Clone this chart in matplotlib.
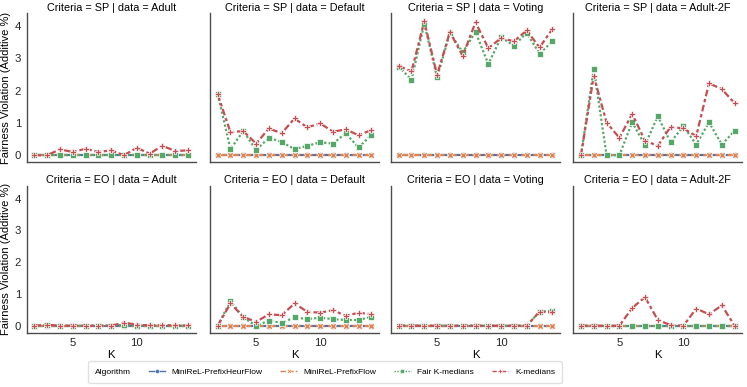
import matplotlib.pyplot as plt
from matplotlib.lines import Line2D
from matplotlib.offsetbox import HPacker

plt.rcParams['font.family'] = ['Liberation Sans', 'DejaVu Sans']

K = [2, 3, 4, 5, 6, 7, 8, 9, 10, 11, 12, 13, 14]
criteria = ["SP", "EO"]
datasets = ["Adult", "Default", "Voting", "Adult-2F"]
algorithms = ["MiniReL-PrefixHeurFlow", "MiniReL-PrefixFlow", "Fair K-medians", "K-medians"]

# MiniReL variants sit on zero everywhere
zero = [0, 0, 0, 0, 0, 0, 0, 0, 0, 0, 0, 0, 0]

# Fair K-medians
sp_adult_fair = [0, 0, 0, 0, 0, 0, 0, 0, 0, 0, 0, 0, 0]
sp_default_fair = [1.89, 0.19, 0.75, 0.16, 0.54, 0.41, 0.19, 0.29, 0.40, 0.36, 0.68, 0.24, 0.62]
sp_voting_fair = [2.75, 2.34, 4.08, 2.41, 3.79, 3.19, 3.82, 2.83, 3.65, 3.40, 3.79, 3.15, 3.53]
sp_adult2f_fair = [0, 2.68, 0, 0, 1.02, 0.31, 1.21, 0.40, 0.90, 0.33, 1.02, 0.33, 0.76]
eo_adult_fair = [0, 0.02, 0, 0, 0, 0, 0, 0.03, 0, 0, 0, 0, 0]
eo_default_fair = [0, 0.78, 0.26, 0, 0.16, 0.09, 0.26, 0.21, 0.25, 0.21, 0.18, 0.18, 0.28]
eo_voting_fair = [0, 0, 0, 0, 0, 0, 0, 0, 0, 0, 0, 0.44, 0.47]
eo_adult2f_fair = [0, 0, 0, 0, 0, 0, 0, 0, 0, 0, 0, 0, 0]

# K-medians
sp_adult_km = [0, 0, 0.18, 0.10, 0.20, 0.10, 0.15, 0, 0.23, 0.05, 0.29, 0.13, 0.15]
sp_default_km = [1.89, 0.71, 0.75, 0.36, 0.83, 0.68, 1.14, 0.86, 0.99, 0.73, 0.80, 0.62, 0.78]
sp_voting_km = [2.77, 2.60, 4.15, 2.49, 3.82, 3.08, 4.12, 3.32, 3.63, 3.53, 3.87, 3.34, 3.91]
sp_adult2f_km = [0, 2.46, 1.01, 0.54, 1.28, 0.45, 0.29, 0.88, 0.83, 0.59, 2.23, 2.05, 1.61]
eo_adult_km = [0, 0.03, 0, 0, 0, 0, 0, 0.10, 0.03, 0.01, 0.02, 0.01, 0.01]
eo_default_km = [0, 0.70, 0.28, 0.12, 0.36, 0.33, 0.70, 0.44, 0.41, 0.49, 0.31, 0.41, 0.36]
eo_voting_km = [0, 0, 0, 0, 0, 0, 0, 0, 0, 0, 0, 0.44, 0.42]
eo_adult2f_km = [0, 0, 0, 0, 0.56, 0.90, 0.18, 0.02, 0, 0.54, 0.36, 0.64, 0]

fair = {
    ("SP", "Adult"): sp_adult_fair, ("SP", "Default"): sp_default_fair,
    ("SP", "Voting"): sp_voting_fair, ("SP", "Adult-2F"): sp_adult2f_fair,
    ("EO", "Adult"): eo_adult_fair, ("EO", "Default"): eo_default_fair,
    ("EO", "Voting"): eo_voting_fair, ("EO", "Adult-2F"): eo_adult2f_fair,
}
kmed = {
    ("SP", "Adult"): sp_adult_km, ("SP", "Default"): sp_default_km,
    ("SP", "Voting"): sp_voting_km, ("SP", "Adult-2F"): sp_adult2f_km,
    ("EO", "Adult"): eo_adult_km, ("EO", "Default"): eo_default_km,
    ("EO", "Voting"): eo_voting_km, ("EO", "Adult-2F"): eo_adult2f_km,
}

colors = ["#4C72B0", "#DD8452", "#55A868", "#C44E52"]
markers = ["o", "X", "s", "P"]
dashes = [None, (4, 1.5), (1, 1), (3, 1.25, 1.5, 1.25)]

W, H = 747, 387
fig = plt.figure(figsize=(W / 100, H / 100), dpi=100)

lefts = [26.7, 210, 391, 573.3]
width = 169
rows = [(13.3, 162.3), (186, 332.7)]  # top, bottom in pixels

for r, crit in enumerate(criteria):
    top, bot = rows[r]
    for c, data in enumerate(datasets):
        ax = fig.add_axes([lefts[c] / W, 1 - bot / H, width / W, (bot - top) / H])
        series = [zero, zero, fair[(crit, data)], kmed[(crit, data)]]
        for i, y in enumerate(series):
            line, = ax.plot(K, y, color=colors[i], marker=markers[i], lw=1.6,
                            ms=4.5, mec="white", mew=0.5, label=algorithms[i])
            if dashes[i] is not None:
                line.set_dashes(dashes[i])
        ax.set_ylim(-0.22, 4.4)
        ax.set_xticks([5, 10])
        ax.set_yticks([0, 1, 2, 3, 4])
        ax.tick_params(length=0, labelsize=8.2, pad=4, colors="0.15")
        for s in ["top", "right"]:
            ax.spines[s].set_visible(False)
        for s in ["left", "bottom"]:
            ax.spines[s].set_color("0.3")
            ax.spines[s].set_linewidth(1.0)
        ax.set_title("Criteria = %s | data = %s" % (crit, data), fontsize=7.8, pad=2)
        if c == 0:
            ax.set_ylabel("Fairness Violation (Additive %)", fontsize=8.0, labelpad=3)
        else:
            ax.set_yticklabels([])
        if r == 1:
            ax.set_xlabel("K", fontsize=8.2, labelpad=1)
        else:
            ax.set_xticklabels([])

handles = []
for i in range(4):
    h = Line2D([], [], color=colors[i], marker=markers[i], lw=1.0, ms=3,
               mec="white", mew=0.4)
    if dashes[i] is not None:
        h.set_dashes(dashes[i])
    handles.append(h)

leg = fig.legend(handles, algorithms, ncol=4, title="Algorithm", fontsize=6,
                 title_fontsize=6, loc="center", bbox_to_anchor=(325 / W, 1 - 372 / H),
                 frameon=True, edgecolor="0.85", handlelength=2.0, handletextpad=0.8,
                 columnspacing=2.1, borderpad=0.8)
# put the title inline with the entries
fs = leg._fontsize
box = HPacker(pad=leg.borderpad * fs, sep=2.1 * fs, align="center",
              children=[leg._legend_title_box, leg._legend_handle_box])
box.set_figure(fig)
box.set_offset(leg._findoffset)
leg._legend_box = box

fig.savefig("out.png", dpi=100)
